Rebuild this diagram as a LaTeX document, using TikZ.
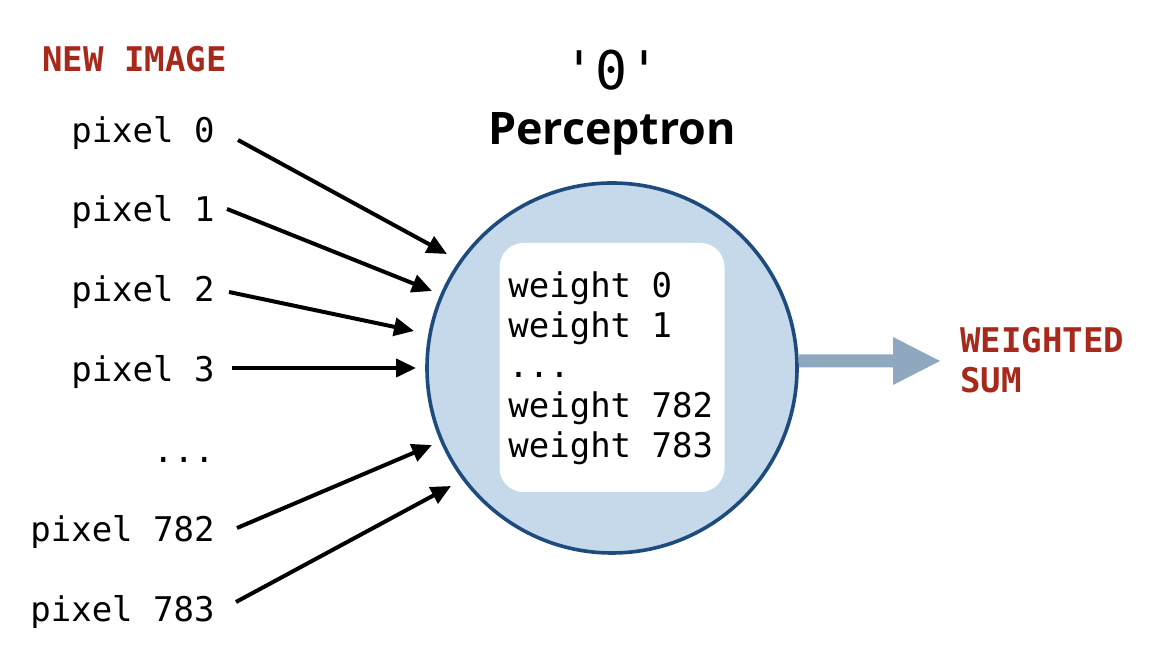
\documentclass[tikz,border=0pt]{standalone}
\usepackage{fontspec}
\setmonofont{DejaVu Sans Mono}
\newfontfamily\titlesans{Open Sans}
\usetikzlibrary{arrows.meta}
\definecolor{redlab}{RGB}{166,41,28}
\definecolor{circfill}{RGB}{197,217,234}
\definecolor{circline}{RGB}{30,75,125}
\definecolor{outarrow}{RGB}{143,168,192}
\tikzset{
  mono/.style={font=\fontsize{17}{20}\selectfont\ttfamily, inner sep=0pt},
  redlabel/.style={mono, font=\fontsize{17}{20}\selectfont\ttfamily\bfseries, text=redlab},
  inarrow/.style={line width=2pt, -{Triangle[length=10pt,width=9pt]}},
}
\begin{document}
\begin{tikzpicture}[x=0.5pt,y=-0.5pt]
\useasboundingbox (0,0) rectangle (1152,672);
% titles
\node[redlabel, anchor=base west] (newimg) at (42,72) {NEW IMAGE};
\node[inner sep=0pt, anchor=base, font=\fontsize{26.6}{30}\selectfont\ttfamily] (zero) at (612,90) {'0'};
\node[inner sep=0pt, anchor=base, font=\fontsize{22.4}{26}\selectfont\titlesans\bfseries] (perc) at (612,145) {Perceptron};
% circle
\node[circle, draw=circline, fill=circfill, line width=1.8pt, minimum size=185pt, inner sep=0pt] (neuron) at (612,368) {};
\node[draw=none, fill=white, rounded corners=12pt, minimum width=112.5pt, minimum height=124.5pt, inner sep=0pt] (wbox) at (612,367.5) {};
\node[mono, anchor=base west] (w0) at (508,298) {weight 0};
\node[mono, anchor=base west] (w1) at (508,338) {weight 1};
\node[mono, anchor=base west] (wd) at (508,378) {...};
\node[mono, anchor=base west] (w782) at (508,418) {weight 782};
\node[mono, anchor=base west] (w783) at (508,458) {weight 783};
% pixel labels
\node[mono, anchor=base east] (p0) at (215,143) {pixel 0};
\node[mono, anchor=base east] (p1) at (215,222) {pixel 1};
\node[mono, anchor=base east] (p2) at (215,302) {pixel 2};
\node[mono, anchor=base east] (p3) at (215,382) {pixel 3};
\node[mono, anchor=base east] (pd) at (215,463) {...};
\node[mono, anchor=base east] (p782) at (215,542) {pixel 782};
\node[mono, anchor=base east] (p783) at (215,622) {pixel 783};
% arrow ends
\coordinate (s0) at (238,140); \coordinate (e0) at (447,254);
\coordinate (s1) at (227,209); \coordinate (e1) at (432,291);
\coordinate (s2) at (229,292); \coordinate (e2) at (414,331);
\coordinate (s3) at (232,368); \coordinate (e3) at (416,368);
\coordinate (s4) at (237,528); \coordinate (e4) at (432,445);
\coordinate (s5) at (236,602); \coordinate (e5) at (451,486);
\draw[inarrow] (s0) -- (e0);
\draw[inarrow] (s1) -- (e1);
\draw[inarrow] (s2) -- (e2);
\draw[inarrow] (s3) -- (e3);
\draw[inarrow] (s4) -- (e4);
\draw[inarrow] (s5) -- (e5);
% output arrow
\fill[outarrow] (neuron.east |- 0,354.5) -- (893,354.5) -- (893,337) -- (940,361) -- (893,385) -- (893,367.5) -- (neuron.east |- 0,367.5) -- cycle;
\node[redlabel, anchor=base west] (ws1) at (960,353) {WEIGHTED};
\node[redlabel, anchor=base west] (ws2) at (960,393) {SUM};
\end{tikzpicture}
\end{document}
